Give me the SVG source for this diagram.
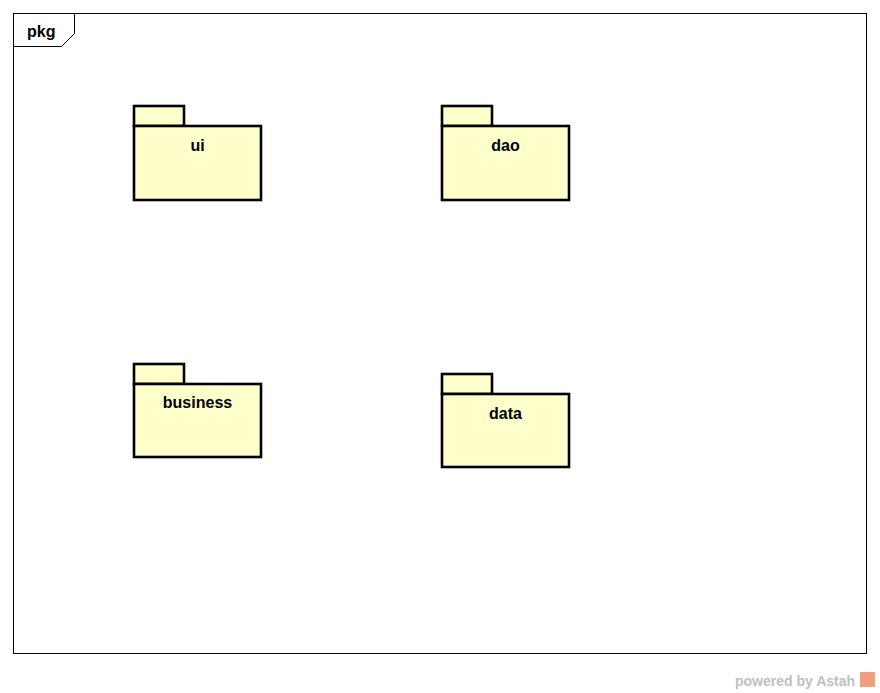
<svg xmlns="http://www.w3.org/2000/svg" width="880" height="693" viewBox="0 0 880 693">
  <style>
    .frame { fill: #ffffff; stroke: #000000; stroke-width: 1; }
    .pkg { fill: #ffffcc; stroke: #000000; stroke-width: 2.6; }
    .name { font-family: "Liberation Sans", Arial, sans-serif; font-size: 16px; font-weight: bold; text-anchor: middle; fill: #000000; }
    .title { font-family: "Liberation Sans", Arial, sans-serif; font-size: 16px; font-weight: bold; fill: #000000; }
    .mark { font-family: "Liberation Sans", Arial, sans-serif; font-size: 14px; font-weight: bold; fill: #c0c0c0; }
  </style>
  <rect width="880" height="693" fill="#ffffff"/>

  <!-- diagram frame with its name tab -->
  <g id="frame">
    <rect class="frame" x="13.5" y="13.5" width="853" height="640"/>
    <path d="M13.5 46.5 H61.5 L74.5 33.5 V13.5" fill="none" stroke="#000000" stroke-width="1"/>
    <text class="title" x="27" y="37">pkg</text>
  </g>

  <g id="ui">
    <rect class="pkg" x="134" y="106" width="50" height="20"/>
    <rect class="pkg" x="134" y="126" width="127" height="74"/>
    <text class="name" x="197.5" y="151">ui</text>
  </g>

  <g id="dao">
    <rect class="pkg" x="442" y="106" width="50" height="20"/>
    <rect class="pkg" x="442" y="126" width="127" height="74"/>
    <text class="name" x="505.5" y="151">dao</text>
  </g>

  <g id="business">
    <rect class="pkg" x="134" y="364" width="50" height="20"/>
    <rect class="pkg" x="134" y="384" width="127" height="73"/>
    <text class="name" x="197.5" y="408">business</text>
  </g>

  <g id="data">
    <rect class="pkg" x="442" y="374" width="50" height="20"/>
    <rect class="pkg" x="442" y="394" width="127" height="73"/>
    <text class="name" x="505.5" y="419">data</text>
  </g>

  <g id="connectors"></g>

  <!-- tool watermark -->
  <g id="watermark">
    <text class="mark" x="735" y="686">powered by Astah</text>
    <rect x="860" y="672" width="15" height="15" fill="#f0a080"/>
  </g>
</svg>
